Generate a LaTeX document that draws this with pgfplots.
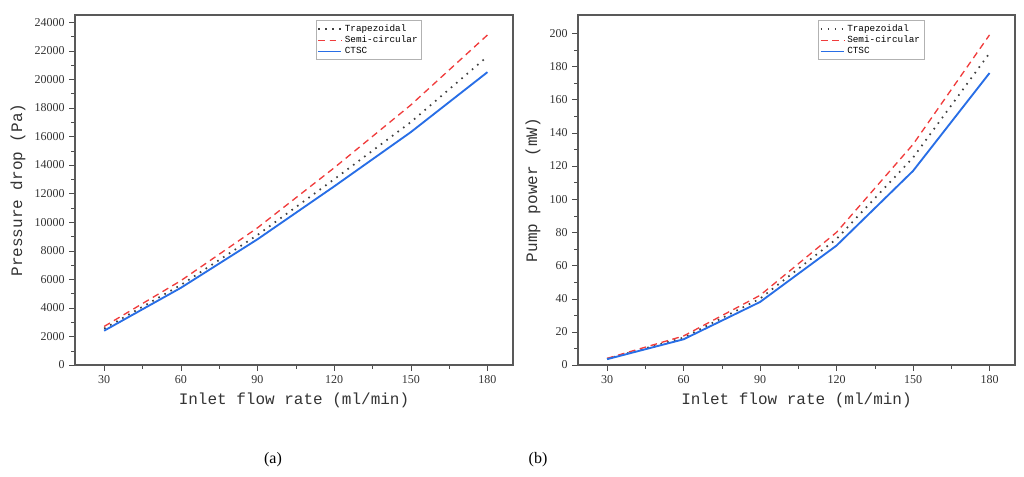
\documentclass[border=0pt]{standalone}
\usepackage{pgfplots}
\pgfplotsset{compat=1.18}
\usepackage{fontspec}
\setmainfont{Liberation Serif}
\setmonofont{Liberation Mono}
\definecolor{cb}{RGB}{40,110,230}
\definecolor{cr}{RGB}{240,60,60}
\begin{document}
\begin{tikzpicture}[x=0.75pt,y=-0.75pt]
\path[use as bounding box] (0,0) rectangle (1024,476);
\pgfplotsset{every axis/.style={scale only axis, axis line style={gray!70!black,thick},
 tick style={gray!60!black}, tick align=outside, xtick={30,60,...,180}, xtick pos=bottom, ytick pos=left,
 minor x tick num=1, minor y tick num=1, xmin=18.6, xmax=190,
 tick label style={font=\small, text=black!80}, /pgf/number format/assume math mode=true,
 /pgf/number format/1000 sep={},
 legend style={at={(0.55,0.985)},anchor=north west, font=\ttfamily\scriptsize, draw=gray!60, inner sep=1pt, row sep=-2pt},
 legend cell align=left,
 xlabel={\ttfamily Inlet flow rate (ml/min)}, label style={font=\ttfamily\large, text=black!80}}}
\begin{axis}[anchor=south west, at={(56.25pt,-273.75pt)}, width=328.5pt, height=262.5pt,
 ymin=0, ymax=24500, ytick={0,2000,...,24000}, ylabel={\ttfamily Pressure drop (Pa)}, scaled y ticks=false]
\addplot[gray!50!black, dash pattern=on 1.2pt off 4pt, line width=1.3pt] coordinates {(30,2550)(60,5600)(90,9100)(120,13000)(150,17000)(180,21600)};
\addlegendentry{Trapezoidal}
\addplot[cr, dash pattern=on 5pt off 3.5pt, line width=1pt] coordinates {(30,2700)(60,5900)(90,9600)(120,13800)(150,18200)(180,23100)};
\addlegendentry{Semi-circular}
\addplot[cb, line width=1.4pt] coordinates {(30,2400)(60,5400)(90,8800)(120,12500)(150,16300)(180,20500)};
\addlegendentry{CTSC}
\end{axis}
\begin{axis}[anchor=south west, at={(433.5pt,-273.75pt)}, width=327.75pt, height=262.5pt,
 ymin=0, ymax=211, ytick={0,20,...,200}, ylabel={\ttfamily Pump power (mW)}]
\addplot[gray!50!black, dash pattern=on 1.2pt off 4pt, line width=1.3pt] coordinates {(30,3.7)(60,16.5)(90,40)(120,76)(150,125)(180,188)};
\addlegendentry{Trapezoidal}
\addplot[cr, dash pattern=on 5pt off 3.5pt, line width=1pt] coordinates {(30,4)(60,17.5)(90,42)(120,80)(150,133)(180,199)};
\addlegendentry{Semi-circular}
\addplot[cb, line width=1.4pt] coordinates {(30,3.5)(60,15.5)(90,38)(120,72)(150,117)(180,176)};
\addlegendentry{CTSC}
\end{axis}
\node[font=\large] at (273,460) {(a)};
\node[font=\large] at (538,460) {(b)};
\end{tikzpicture}
\end{document}
